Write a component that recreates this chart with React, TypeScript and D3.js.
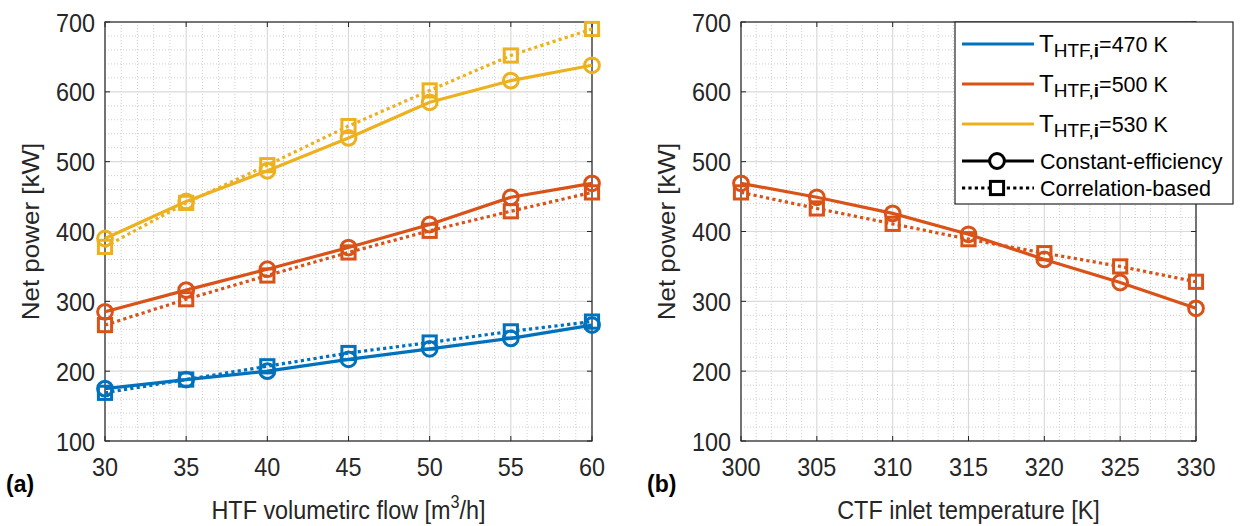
import React from "react";
import * as d3 from "d3";

// Left panel: net power vs HTF volumetric flow
const flowValues = [30, 35, 40, 45, 50, 55, 60];
const constEff470 = [175, 188, 200, 217, 232, 247, 266];
const corrBased470 = [169, 188, 207, 226, 241, 257, 271];
const constEff500 = [285, 316, 346, 377, 410, 449, 469];
const corrBased500 = [266, 303, 337, 370, 401, 429, 456];
const constEff530 = [390, 443, 487, 534, 585, 616, 638];
const corrBased530 = [378, 441, 495, 551, 602, 652, 690];

// Right panel: net power vs CTF inlet temperature (T_HTF,i = 500 K)
const ctfTemps = [300, 305, 310, 315, 320, 325, 330];
const constEffCtf = [469, 449, 426, 396, 360, 327, 290];
const corrBasedCtf = [456, 433, 411, 389, 369, 350, 328];

const yTicks = [100, 200, 300, 400, 500, 600, 700];
const flowTicks = [30, 35, 40, 45, 50, 55, 60];
const ctfTicks = [300, 305, 310, 315, 320, 325, 330];

const legendTemps = ["470", "500", "530"];

const BLUE = "#0072BD";
const RED = "#D95319";
const YELLOW = "#EDB120";
const AX = "#262626";
const FONT = "'Liberation Sans', Arial, Helvetica, sans-serif";

const TOP = 22;
const BOTTOM = 441;
const LW = 3.2;
const DOTS = "3.2 3.2";

type Series = { values: number[]; color: string; kind: "circle" | "square" };

// Text drawn slightly condensed horizontally
function NText(props: {
  x: number;
  y: number;
  size: number;
  anchor?: "start" | "middle" | "end";
  sx?: number;
  weight?: string;
  fill?: string;
  children: React.ReactNode;
}) {
  const { x, y, size, anchor = "start", sx = 0.9, weight, fill = AX, children } = props;
  return (
    <text
      transform={`translate(${x},${y}) scale(${sx},1)`}
      textAnchor={anchor}
      fontSize={size}
      fontFamily={FONT}
      fontWeight={weight}
      fill={fill}
    >
      {children}
    </text>
  );
}

function Marker(props: { kind: "circle" | "square"; cx: number; cy: number; color: string; fill?: string }) {
  const { kind, cx, cy, color, fill = "none" } = props;
  return kind === "circle" ? (
    <circle cx={cx} cy={cy} r={7.4} fill={fill} stroke={color} strokeWidth={3} />
  ) : (
    <rect x={cx - 6.6} y={cy - 6.6} width={13.2} height={13.2} fill={fill} stroke={color} strokeWidth={3} />
  );
}

function Panel(props: {
  x0: number;
  x1: number;
  xs: number[];
  xTicks: number[];
  domain: [number, number];
  series: Series[];
  xLabel: React.ReactNode;
  tag: string;
  tagX: number;
}) {
  const { x0, x1, xs, xTicks, domain, series, xLabel, tag, tagX } = props;
  const x = d3.scaleLinear().domain(domain).range([x0, x1]);
  const y = d3.scaleLinear().domain([100, 700]).range([BOTTOM, TOP]);
  const minorX = d3.range(domain[0], domain[1] + 0.001, 1).filter((v) => !xTicks.includes(v));
  const minorY = d3.range(100, 701, 20).filter((v) => !yTicks.includes(v));
  const line = d3
    .line<number>()
    .x((_, i) => x(xs[i]))
    .y((d) => y(d));
  const tl = 5;
  const cx = (x0 + x1) / 2;
  const cy = (TOP + BOTTOM) / 2;
  return (
    <g>
      <rect x={x0} y={TOP} width={x1 - x0} height={BOTTOM - TOP} fill="#fff" />
      {/* minor grid */}
      {minorX.map((v) => (
        <line key={"mx" + v} x1={x(v)} x2={x(v)} y1={TOP} y2={BOTTOM} stroke="#cfcfcf" strokeWidth={1} strokeDasharray="1 2" />
      ))}
      {minorY.map((v) => (
        <line key={"my" + v} y1={y(v)} y2={y(v)} x1={x0} x2={x1} stroke="#cfcfcf" strokeWidth={1} strokeDasharray="1 2" />
      ))}
      {/* major grid */}
      {xTicks.map((v) => (
        <line key={"gx" + v} x1={x(v)} x2={x(v)} y1={TOP} y2={BOTTOM} stroke="#dadada" strokeWidth={1.2} />
      ))}
      {yTicks.map((v) => (
        <line key={"gy" + v} y1={y(v)} y2={y(v)} x1={x0} x2={x1} stroke="#dadada" strokeWidth={1.2} />
      ))}
      {/* axes box */}
      <rect x={x0} y={TOP} width={x1 - x0} height={BOTTOM - TOP} fill="none" stroke={AX} strokeWidth={1.2} />
      {xTicks.map((v) => (
        <g key={"tx" + v}>
          <line x1={x(v)} x2={x(v)} y1={BOTTOM} y2={BOTTOM - tl} stroke={AX} />
          <line x1={x(v)} x2={x(v)} y1={TOP} y2={TOP + tl} stroke={AX} />
          <NText x={x(v)} y={475.5} size={26} anchor="middle">
            {v}
          </NText>
        </g>
      ))}
      {yTicks.map((v) => (
        <g key={"ty" + v}>
          <line x1={x0} x2={x0 + tl} y1={y(v)} y2={y(v)} stroke={AX} />
          <line x1={x1} x2={x1 - tl} y1={y(v)} y2={y(v)} stroke={AX} />
          <NText x={x0 - 10} y={y(v) + 9.5} size={26} anchor="end">
            {v}
          </NText>
        </g>
      ))}
      {/* data */}
      {series.map((s, si) => (
        <g key={"s" + si}>
          <path
            d={line(s.values) || ""}
            fill="none"
            stroke={s.color}
            strokeWidth={LW}
            strokeDasharray={s.kind === "square" ? DOTS : undefined}
          />
          {s.values.map((v, i) => (
            <Marker key={i} kind={s.kind} cx={x(xs[i])} cy={y(v)} color={s.color} />
          ))}
        </g>
      ))}
      {/* labels */}
      <NText x={cx} y={519} size={26} anchor="middle">
        {xLabel}
      </NText>
      <text
        transform={`translate(${x0 - 66},${cy}) rotate(-90) scale(1,0.9)`}
        textAnchor="middle"
        fontSize={26}
        fontFamily={FONT}
        fill={AX}
      >
        Net power [kW]
      </text>
      <text x={tagX} y={492} fontSize={23} fontWeight="bold" fontFamily={FONT} fill="#000">
        {tag}
      </text>
    </g>
  );
}

function Legend() {
  const colors = [BLUE, RED, YELLOW];
  const rows = [44, 84, 124];
  return (
    <g fontFamily={FONT} fill="#000">
      <rect x={955} y={22} width={278} height={182} fill="#fff" stroke={AX} strokeWidth={1.2} />
      {legendTemps.map((t, i) => (
        <g key={t}>
          <line x1={962} x2={1034} y1={rows[i]} y2={rows[i]} stroke={colors[i]} strokeWidth={LW} />
          <text x={1039} y={rows[i] + 7.5} fontSize={24}>
            T
            <tspan fontSize={19} dy={5}>
              HTF,
            </tspan>
            <tspan fontSize={19} fontWeight="bold">
              i
            </tspan>
            <tspan dy={-5} fontSize={21.5}>
              ={t} K
            </tspan>
          </text>
        </g>
      ))}
      <line x1={962} x2={1034} y1={161} y2={161} stroke="#000" strokeWidth={LW} />
      <Marker kind="circle" cx={997} cy={161} color="#000" fill="#fff" />
      <text x={1040} y={168.5} fontSize={21.5}>
        Constant-efficiency
      </text>
      <line x1={962} x2={1034} y1={188} y2={188} stroke="#000" strokeWidth={LW} strokeDasharray={DOTS} />
      <Marker kind="square" cx={997} cy={188} color="#000" fill="#fff" />
      <text x={1040} y={195.5} fontSize={21.5}>
        Correlation-based
      </text>
    </g>
  );
}

export default function App() {
  const leftSeries: Series[] = [
    { values: constEff470, color: BLUE, kind: "circle" },
    { values: corrBased470, color: BLUE, kind: "square" },
    { values: constEff500, color: RED, kind: "circle" },
    { values: corrBased500, color: RED, kind: "square" },
    { values: constEff530, color: YELLOW, kind: "circle" },
    { values: corrBased530, color: YELLOW, kind: "square" },
  ];
  const rightSeries: Series[] = [
    { values: constEffCtf, color: RED, kind: "circle" },
    { values: corrBasedCtf, color: RED, kind: "square" },
  ];
  return (
    <div style={{ position: "absolute", left: 0, top: 0 }}>
      <svg width={1260} height={526} style={{ display: "block", background: "#fff" }}>
        <Panel
          x0={105}
          x1={592}
          xs={flowValues}
          xTicks={flowTicks}
          domain={[30, 60]}
          series={leftSeries}
          xLabel={
            <>
              HTF volumetirc flow [m
              <tspan fontSize={18} dy={-11}>
                3
              </tspan>
              <tspan dy={11}>/h]</tspan>
            </>
          }
          tag="(a)"
          tagX={6}
        />
        <Panel
          x0={741}
          x1={1196}
          xs={ctfTemps}
          xTicks={ctfTicks}
          domain={[300, 330]}
          series={rightSeries}
          xLabel="CTF inlet temperature [K]"
          tag="(b)"
          tagX={647}
        />
        <Legend />
      </svg>
    </div>
  );
}
